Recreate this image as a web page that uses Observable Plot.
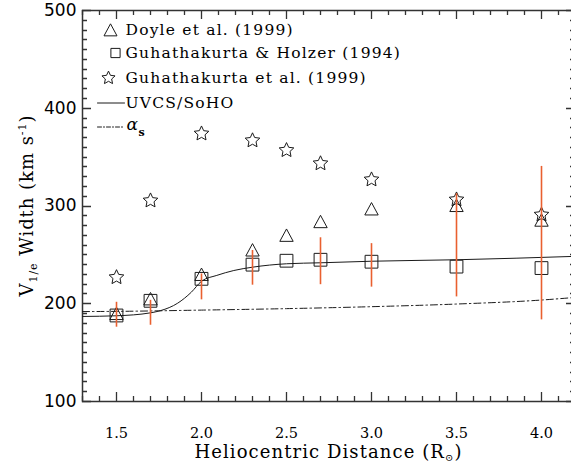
<!DOCTYPE html>
<html>
<head>
<meta charset="utf-8">
<script src="https://cdn.jsdelivr.net/npm/d3@7"></script>
<script src="https://cdn.jsdelivr.net/npm/@observablehq/plot@0.6"></script>
<style>
html, body { margin: 0; padding: 0; background: #fff; overflow: hidden; }
</style>
</head>
<body>
<div id="chart"></div>
<script>
// ---- data ----
const distance = [1.5, 1.7, 2.0, 2.3, 2.5, 2.7, 3.0, 3.5, 4.0];
const doyleWidth = [190, 205, 230, 255, 270, 284, 297, 300.5, 285.5];
const holzerWidth = [188, 203, 225.5, 240, 244, 245, 243, 238, 236.5];
const holzerLow = [176, 178, 204, 219, null, 219.5, 217, 207, 183.5];
const holzerHigh = [201.5, 203.5, 230.5, 254.5, null, 267.5, 261.5, 312.5, 340.5];
const guhathakurtaWidth = [227, 305.5, 374, 367, 357, 343.5, 327, 306.5, 291];
const uvcsDistance = [1.3, 1.5, 1.7, 1.76, 1.86, 1.94, 2.0, 2.09, 2.19, 2.3, 2.5, 2.7, 3.0, 3.5, 4.2];
const uvcsWidth = [187, 187.7, 190.7, 193, 200.6, 211.8, 223, 229, 234, 237.4, 240.9, 241.9, 243.5, 245, 248.5];
const alphaDistance = [1.3, 1.5, 2.0, 2.5, 3.0, 3.5, 4.0, 4.2];
const alphaWidth = [192, 192.2, 193.5, 195, 197, 199.7, 203.8, 206.5];
const xTickLabels = [1.5, 2.0, 2.5, 3.0, 3.5, 4.0];
const yTickLabels = [100, 200, 300, 400, 500];
const legendLabels = ["Doyle et al. (1999)", "Guhathakurta & Holzer (1994)", "Guhathakurta et al. (1999)", "UVCS/SoHO"];

const xDomain = [1.3, 4.2];
const yDomain = [100, 500];

// minor ticks (axis decoration)
const xMinorTicks = d3.range(13, 43).map(d => d / 10).filter(d => !xTickLabels.some(t => Math.abs(t - d) < 1e-9));
const yMinorTicks = d3.range(100, 501, 10).filter(d => d % 100 !== 0);

// ---- tables ----
const points = distance.map((x, i) => ({
  x, doyle: doyleWidth[i], holzer: holzerWidth[i], guhat: guhathakurtaWidth[i],
  lo: holzerLow[i], hi: holzerHigh[i]
}));
const errorBars = points.filter(d => d.lo != null && d.hi != null);
const uvcs = uvcsDistance.map((x, i) => ({x, v: uvcsWidth[i]}));
const alpha = alphaDistance.map((x, i) => ({x, v: alphaWidth[i]}));

// ---- layout ----
const W = 571, H = 464, ML = 82, MR = -4, MT = 10, MB = 63;

// ---- symbols ----
const rad = size => Math.sqrt(size / Math.PI);
const triangleSymbol = {draw(c, s) { const R = rad(s); c.moveTo(0, -R * 0.95); c.lineTo(R, R * 0.9); c.lineTo(-R, R * 0.9); c.closePath(); }};
const squareSymbol = {draw(c, s) { const R = rad(s); c.moveTo(-R, -R); c.lineTo(R, -R); c.lineTo(R, R); c.lineTo(-R, R); c.closePath(); }};
const starSymbol = {draw(c, s) {
  const R = rad(s), r = R * 0.48;
  for (let i = 0; i < 10; i++) {
    const a = Math.PI * i / 5, rr = i % 2 ? r : R;
    const px = rr * Math.sin(a), py = -rr * Math.cos(a);
    if (i) c.lineTo(px, py); else c.moveTo(px, py);
  }
  c.closePath();
}};
const tickShape = {draw(c, l) { c.moveTo(0, 0); c.lineTo(0, -l); }};

const INK = "#1a1a1a";
const AXIS = "#333";
const ORANGE = "#e9602f";

const legendRowsDy = [19.5, 42.5, 67.5, 92.5, 116.5];
const legendSymbols = [
  {symbol: triangleSymbol, r: 6.5, dx: 28},
  {symbol: squareSymbol, r: 4.6, dx: 33},
  {symbol: starSymbol, r: 6.9, dx: 26}
];

const marks = [
  Plot.frame({stroke: AXIS, strokeWidth: 1.5}),
  Plot.axisX(xTickLabels, {anchor: "bottom", tickSize: 0, tickPadding: 26, fontSize: 14.5,
    fontFamily: "DejaVu Serif", tickFormat: d => d.toFixed(1), label: null, fill: "black"}),
  Plot.axisY(yTickLabels, {anchor: "left", tickSize: 0, tickPadding: 6, fontSize: 17,
    fontFamily: "DejaVu Sans", label: null, fill: "black"}),
  Plot.line(alpha, {x: "x", y: "v", stroke: INK, strokeWidth: 1, strokeDasharray: "7,3,1.5,3", curve: "monotone-x"}),
  Plot.line(uvcs, {x: "x", y: "v", stroke: INK, strokeWidth: 1, curve: "monotone-x"}),
  Plot.dot(points, {x: "x", y: "guhat", symbol: starSymbol, r: 7.7, stroke: INK, fill: "none", strokeWidth: 1}),
  Plot.dot(points, {x: "x", y: "holzer", symbol: squareSymbol, r: 6.4, stroke: INK, fill: "none", strokeWidth: 1}),
  Plot.dot(points, {x: "x", y: "doyle", symbol: triangleSymbol, r: 6.7, stroke: INK, fill: "none", strokeWidth: 1}),
  Plot.ruleX(errorBars, {x: "x", y1: "lo", y2: "hi", stroke: ORANGE, strokeWidth: 1.6}),
  // legend
  ...legendSymbols.map((s, i) => Plot.dot([0], {frameAnchor: "top-left", dx: s.dx, dy: legendRowsDy[i],
    symbol: s.symbol, r: s.r, stroke: INK, fill: "none", strokeWidth: 1})),
  Plot.vector([0], {frameAnchor: "top-left", dx: 15, dy: legendRowsDy[3], rotate: 90, length: 27, anchor: "start",
    shape: tickShape, stroke: INK, strokeWidth: 1}),
  Plot.vector([0], {frameAnchor: "top-left", dx: 15, dy: legendRowsDy[4], rotate: 90, length: 27, anchor: "start",
    shape: tickShape, stroke: INK, strokeWidth: 1, strokeDasharray: "4,2,1,2"}),
  ...legendLabels.map((t, i) => Plot.text([t], {text: d => d, frameAnchor: "top-left", dx: 43, dy: legendRowsDy[i],
    textAnchor: "start", lineAnchor: "middle", fontFamily: "DejaVu Serif", fontSize: 15.5, fill: "black"})),
  Plot.text(["α"], {text: d => d, frameAnchor: "top-left", dx: 44, dy: legendRowsDy[4] - 2, textAnchor: "start",
    lineAnchor: "middle", fontFamily: "DejaVu Serif", fontStyle: "italic", fontSize: 17, fill: "black"}),
  Plot.text(["s"], {text: d => d, frameAnchor: "top-left", dx: 56, dy: legendRowsDy[4] + 5, textAnchor: "start",
    lineAnchor: "middle", fontFamily: "DejaVu Serif", fontWeight: "bold", fontSize: 11, fill: "black"})
];

const plot = Plot.plot({
  width: W,
  height: H,
  marginLeft: ML,
  marginRight: MR,
  marginTop: MT,
  marginBottom: MB,
  x: {domain: xDomain},
  y: {domain: yDomain},
  style: {background: "white", color: "black", fontFamily: "DejaVu Serif"},
  marks
});
document.getElementById("chart").appendChild(plot);

const svg = d3.select(plot);
// widen legend text spacing like the reference font
svg.selectAll('g[aria-label="text"] text').each(function() {
  if (this.textContent.length > 2) this.style.letterSpacing = "1.2px";
});

// inward ticks on all four sides, positioned through Plot's own scales
const sx = plot.scale("x"), sy = plot.scale("y");
const [fx0, fx1] = sx.range, [fy0, fy1] = sy.range; // fy0 bottom, fy1 top
const tickPath = d3.path();
const addX = (vals, len) => vals.forEach(v => {
  const px = Math.round(sx.apply(v)) + 0.5;
  tickPath.moveTo(px, fy0); tickPath.lineTo(px, fy0 - len);
  tickPath.moveTo(px, fy1); tickPath.lineTo(px, fy1 + len);
});
const addY = (vals, len) => vals.forEach(v => {
  const py = Math.round(sy.apply(v)) + 0.5;
  tickPath.moveTo(fx0, py); tickPath.lineTo(fx0 + len, py);
  tickPath.moveTo(fx1, py); tickPath.lineTo(fx1 - len, py);
});
addX(xTickLabels, 9); addX(xMinorTicks, 5);
addY(yTickLabels, 9); addY(yMinorTicks, 5);
svg.append("path").attr("d", tickPath.toString()).attr("fill", "none")
  .attr("stroke", AXIS).attr("stroke-width", 1.3);

function fitWidth(node, target) {
  const n = node.textContent.length;
  const len = node.getComputedTextLength();
  node.style.letterSpacing = ((target - len) / n) + "px";
}

const cx = (fx0 + fx1) / 2, cy = (fy0 + fy1) / 2;

// x title
const xt = svg.append("text").attr("x", cx).attr("y", 458).attr("text-anchor", "middle")
  .attr("font-family", "DejaVu Serif").attr("font-size", 18).attr("fill", "black");
xt.append("tspan").text("Heliocentric Distance (R");
xt.append("tspan").attr("font-size", 10).attr("dy", 3).text("⊙");
xt.append("tspan").attr("dy", -3).text(")");
fitWidth(xt.node(), 268);

// y title
const yt = svg.append("text").attr("transform", `translate(33,${cy}) rotate(-90)`).attr("text-anchor", "middle")
  .attr("font-family", "DejaVu Serif").attr("font-size", 18).attr("fill", "black");
yt.append("tspan").text("V");
yt.append("tspan").attr("font-size", 11).attr("dy", 4).text("1/e");
yt.append("tspan").attr("dy", -4).text(" Width (km s");
yt.append("tspan").attr("font-size", 11).attr("dy", -7).text("-1");
yt.append("tspan").attr("dy", 7).text(")");
fitWidth(yt.node(), 182);
</script>
</body>
</html>
